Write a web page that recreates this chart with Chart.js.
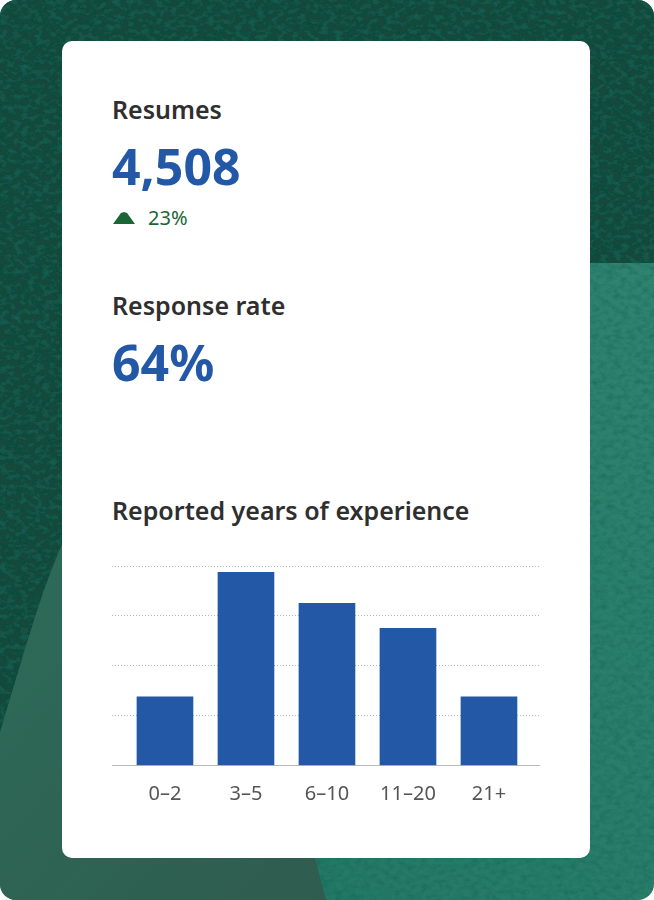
<!DOCTYPE html>
<html lang="en">
<head>
    <meta charset="UTF-8">
    <title>Resumes</title>
    <style>
        html, body { margin: 0; padding: 0; background: #fff; }
        body { font-family: "Noto Sans", sans-serif; }
        #page {
            position: relative;
            width: 654px;
            height: 900px;
            overflow: hidden;
            border-radius: 16px;
        }
        #bg { position: absolute; left: 0; top: 0; }
        #card {
            position: absolute;
            left: 62px;
            top: 41px;
            width: 528px;
            height: 817px;
            background: #fff;
            border-radius: 10px;
        }
        .label, .value, .delta { position: absolute; left: 50px; white-space: nowrap; }
        .label { font-size: 25px; font-weight: 600; color: #2f2f2f; line-height: 32px; }
        .value { font-size: 50px; font-weight: 700; color: #2358a6; line-height: 60px; }
        .delta { left: 86px; font-size: 20px; color: #1b6636; line-height: 24px; }
        #arrow {
            position: absolute;
            left: 51px;
            top: 171px;
            width: 22px;
            height: 12px;
            background: #1b6636;
            clip-path: polygon(0 100%, 36% 8%, 50% 0, 64% 8%, 100% 100%);
        }
        canvas { position: absolute; left: 50px; top: 518px; }
    </style>
</head>
<body>
    <div id="page">
        <svg id="bg" width="654" height="900" viewBox="0 0 654 900">
            <defs>
                <filter id="paper" x="0" y="0" width="100%" height="100%">
                    <feTurbulence type="fractalNoise" baseFrequency="0.14 0.2" numOctaves="5" seed="7" result="n"/>
                    <feColorMatrix in="n" type="matrix" values="0 0 0 0 0.01  0 0 0 0 0.14  0 0 0 0 0.11  1.5 0 0 0 -0.62" result="specks"/>
                    <feComposite in="specks" in2="SourceGraphic" operator="in" result="clipped"/>
                    <feMerge>
                        <feMergeNode in="SourceGraphic"/>
                        <feMergeNode in="clipped"/>
                    </feMerge>
                </filter>
                <linearGradient id="teal" x1="0" y1="1" x2="1" y2="0">
                    <stop offset="0" stop-color="#1f7460"/>
                    <stop offset="1" stop-color="#338571"/>
                </linearGradient>
                <linearGradient id="flat" x1="0" y1="0" x2="1" y2="1">
                    <stop offset="0" stop-color="#2d6b59"/>
                    <stop offset="1" stop-color="#2f5c4e"/>
                </linearGradient>
            </defs>
            <rect width="654" height="900" fill="url(#teal)" filter="url(#paper)"/>
            <path d="M0 0H654V263H560V545H62C42 590 28 640 0 733Z" fill="#16483b" filter="url(#paper)"/>
            <path d="M0 733C28 640 42 590 62 545H200V858H315L326 900H0Z" fill="url(#flat)"/>
        </svg>
        <div id="card">
            <div class="label" id="label1" style="top:52px"></div>
            <div class="value" id="value1" style="top:95px"></div>
            <div id="arrow"></div>
            <div class="delta" id="delta1" style="top:165px"></div>
            <div class="label" id="label2" style="top:248px"></div>
            <div class="value" id="value2" style="top:291px"></div>
            <div class="label" id="label3" style="top:453px"></div>
            <canvas id="myChart" width="428" height="250"></canvas>
        </div>
    </div>

    <script src="https://cdn.jsdelivr.net/npm/chart.js"></script>
    <script>
        const statLabels = ['Resumes', 'Response rate', 'Reported years of experience'];
        const statValues = ['4,508', '64%'];
        const resumeChange = '23%';

        const categories = ['0–2', '3–5', '6–10', '11–20', '21+'];
        const shares = [11, 31, 26, 22, 11];

        document.getElementById('label1').textContent = statLabels[0];
        document.getElementById('label2').textContent = statLabels[1];
        document.getElementById('label3').textContent = statLabels[2];
        document.getElementById('value1').textContent = statValues[0];
        document.getElementById('value2').textContent = statValues[1];
        document.getElementById('delta1').textContent = resumeChange;

        // the rules run wider than the bar band, so x is linear with a margin each side
        new Chart(document.getElementById('myChart').getContext('2d'), {
            type: 'bar',
            data: {
                datasets: [{
                    data: shares.map((v, i) => ({ x: i, y: v })),
                    backgroundColor: '#2358a6',
                    barThickness: 56
                }]
            },
            options: {
                responsive: false,
                animation: false,
                layout: { padding: { top: 7 } },
                plugins: { legend: { display: false }, tooltip: { enabled: false } },
                scales: {
                    x: {
                        type: 'linear',
                        offset: false,
                        min: -0.654,
                        max: 4.63,
                        grid: { display: false },
                        border: { display: true, color: '#b9b9b9', width: 1 },
                        afterBuildTicks: scale => {
                            scale.ticks = categories.map((c, i) => ({ value: i }));
                        },
                        afterFit: scale => { scale.height = 43.6; },
                        ticks: {
                            autoSkip: false,
                            maxRotation: 0,
                            padding: 9,
                            color: '#555555',
                            font: { family: '"Noto Sans"', size: 20 },
                            callback: value => categories[value]
                        }
                    },
                    y: {
                        min: 0,
                        max: 32,
                        afterFit: scale => { scale.width = 0; },
                        ticks: { display: false, stepSize: 8 },
                        border: { display: false, dash: [1, 2] },
                        grid: {
                            drawTicks: false,
                            color: ctx => ctx.tick.value === 0 ? 'transparent' : '#b5b5b5'
                        }
                    }
                }
            }
        });
    </script>
</body>
</html>
